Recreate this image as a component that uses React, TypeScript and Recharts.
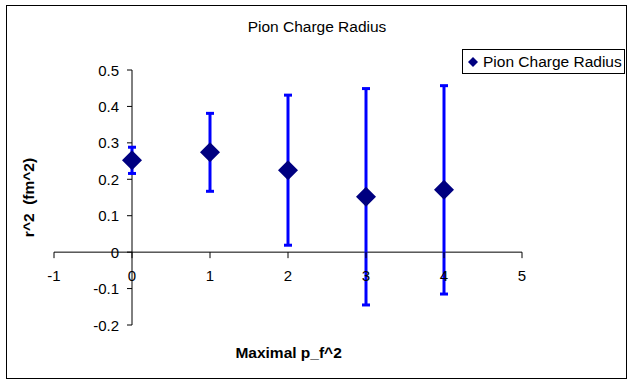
import React from 'react';
import {
  ScatterChart,
  Scatter,
  XAxis,
  YAxis,
  ErrorBar,
  ReferenceLine,
  ReferenceDot,
  Legend,
  Customized,
} from 'recharts';

const FONT = '"Liberation Sans", Arial, sans-serif';

const categories = [0, 1, 2, 3, 4];
const r2Values = [0.252, 0.274, 0.225, 0.152, 0.171];
const r2Errors = [0.036, 0.107, 0.206, 0.297, 0.286];
const xTicks = [-1, 0, 1, 2, 3, 4, 5];
const xTickLabels = ['-1', '0', '1', '2', '3', '4', '5'];
const yTicks = [-0.2, -0.1, 0, 0.1, 0.2, 0.3, 0.4, 0.5];
const yTickLabels = ['-0.2', '-0.1', '0', '0.1', '0.2', '0.3', '0.4', '0.5'];

const data = categories.map((x, i) => ({ x, y: r2Values[i], err: r2Errors[i] }));

const Diamond = (props: any) => {
  const { cx, cy } = props;
  const r = 10;
  return (
    <polygon
      points={`${cx},${cy - r} ${cx + r},${cy} ${cx},${cy + r} ${cx - r},${cy}`}
      fill="#000080"
    />
  );
};

const makeYTick = (label: string) => (props: any) => {
  const { cx, cy } = props;
  return (
    <g>
      <line x1={cx - 5} y1={cy} x2={cx} y2={cy} stroke="#000" strokeWidth={1} />
      <text
        x={cx - 13}
        y={cy + 5.5}
        textAnchor="end"
        fontSize={15}
        fontFamily={FONT}
        fill="#000"
      >
        {label}
      </text>
    </g>
  );
};

const makeXTick = (label: string) => (props: any) => {
  const { cx, cy } = props;
  return (
    <g>
      <line x1={cx} y1={cy} x2={cx} y2={cy + 6} stroke="#000" strokeWidth={1} />
      <text
        x={cx}
        y={cy + 29}
        textAnchor="middle"
        fontSize={15}
        fontFamily={FONT}
        fill="#000"
      >
        {label}
      </text>
    </g>
  );
};

const Titles = () => (
  <g>
    <text x={317} y={32} textAnchor="middle" fontSize={15.5} fontFamily={FONT} fill="#000">
      Pion Charge Radius
    </text>
    <text
      x={288.6}
      y={358.3}
      textAnchor="middle"
      fontSize={15.5}
      fontWeight="bold"
      fontFamily={FONT}
      fill="#000"
    >
      Maximal p_f^2
    </text>
    <text
      transform="translate(34,197.5) rotate(-90)"
      x={0}
      y={0}
      textAnchor="middle"
      fontSize={15.5}
      fontWeight="bold"
      fontFamily={FONT}
      fill="#000"
      style={{ whiteSpace: 'pre' }}
    >
      {'r^2  (fm^2)'}
    </text>
  </g>
);

const LegendContent = () => (
  <div
    style={{
      width: 163,
      height: 25,
      border: '1px solid #000',
      boxSizing: 'border-box',
      display: 'flex',
      alignItems: 'center',
      paddingLeft: 5,
      background: '#fff',
      fontFamily: FONT,
      fontSize: 15.5,
      color: '#000',
      whiteSpace: 'nowrap',
    }}
  >
    <svg width={10} height={10} style={{ display: 'block' }}>
      <polygon points="5,0 10,5 5,10 0,5" fill="#000080" />
    </svg>
    <span style={{ marginLeft: 5 }}>Pion Charge Radius</span>
  </div>
);

export default function App() {
  return (
    <div
      style={{
        position: 'absolute',
        left: 0,
        top: 0,
        width: 635,
        height: 384,
        background: '#fff',
      }}
    >
      <div
        style={{
          position: 'absolute',
          left: 6,
          top: 5,
          width: 621,
          height: 374,
          border: '1px solid #000',
          boxSizing: 'border-box',
        }}
      />
      <ScatterChart
        width={635}
        height={384}
        margin={{ top: 70, right: 113, bottom: 59, left: 54 }}
      >
        <XAxis type="number" dataKey="x" domain={[-1, 5]} ticks={xTicks} hide allowDataOverflow />
        <YAxis type="number" dataKey="y" domain={[-0.2, 0.5]} ticks={yTicks} hide allowDataOverflow />
        <ReferenceLine x={0} stroke="#000" strokeWidth={1} />
        <ReferenceLine y={0} stroke="#000" strokeWidth={1} />
        {yTicks.map((v, i) => (
          <ReferenceDot key={`yt${i}`} x={0} y={v} r={0} shape={makeYTick(yTickLabels[i])} />
        ))}
        {xTicks.map((v, i) => (
          <ReferenceDot key={`xt${i}`} x={v} y={0} r={0} shape={makeXTick(xTickLabels[i])} />
        ))}
        <Legend
          layout="horizontal"
          verticalAlign="middle"
          align="center"
          wrapperStyle={{ position: 'absolute', left: 462, top: 49, width: 163, height: 25 }}
          content={() => <LegendContent />}
        />
        <Scatter
          name="Pion Charge Radius"
          data={data}
          fill="#000080"
          shape={Diamond}
          isAnimationActive={false}
        >
          <ErrorBar dataKey="err" direction="y" width={4} stroke="#0000FF" strokeWidth={3} />
        </Scatter>
        <Customized component={Titles} />
      </ScatterChart>
    </div>
  );
}
